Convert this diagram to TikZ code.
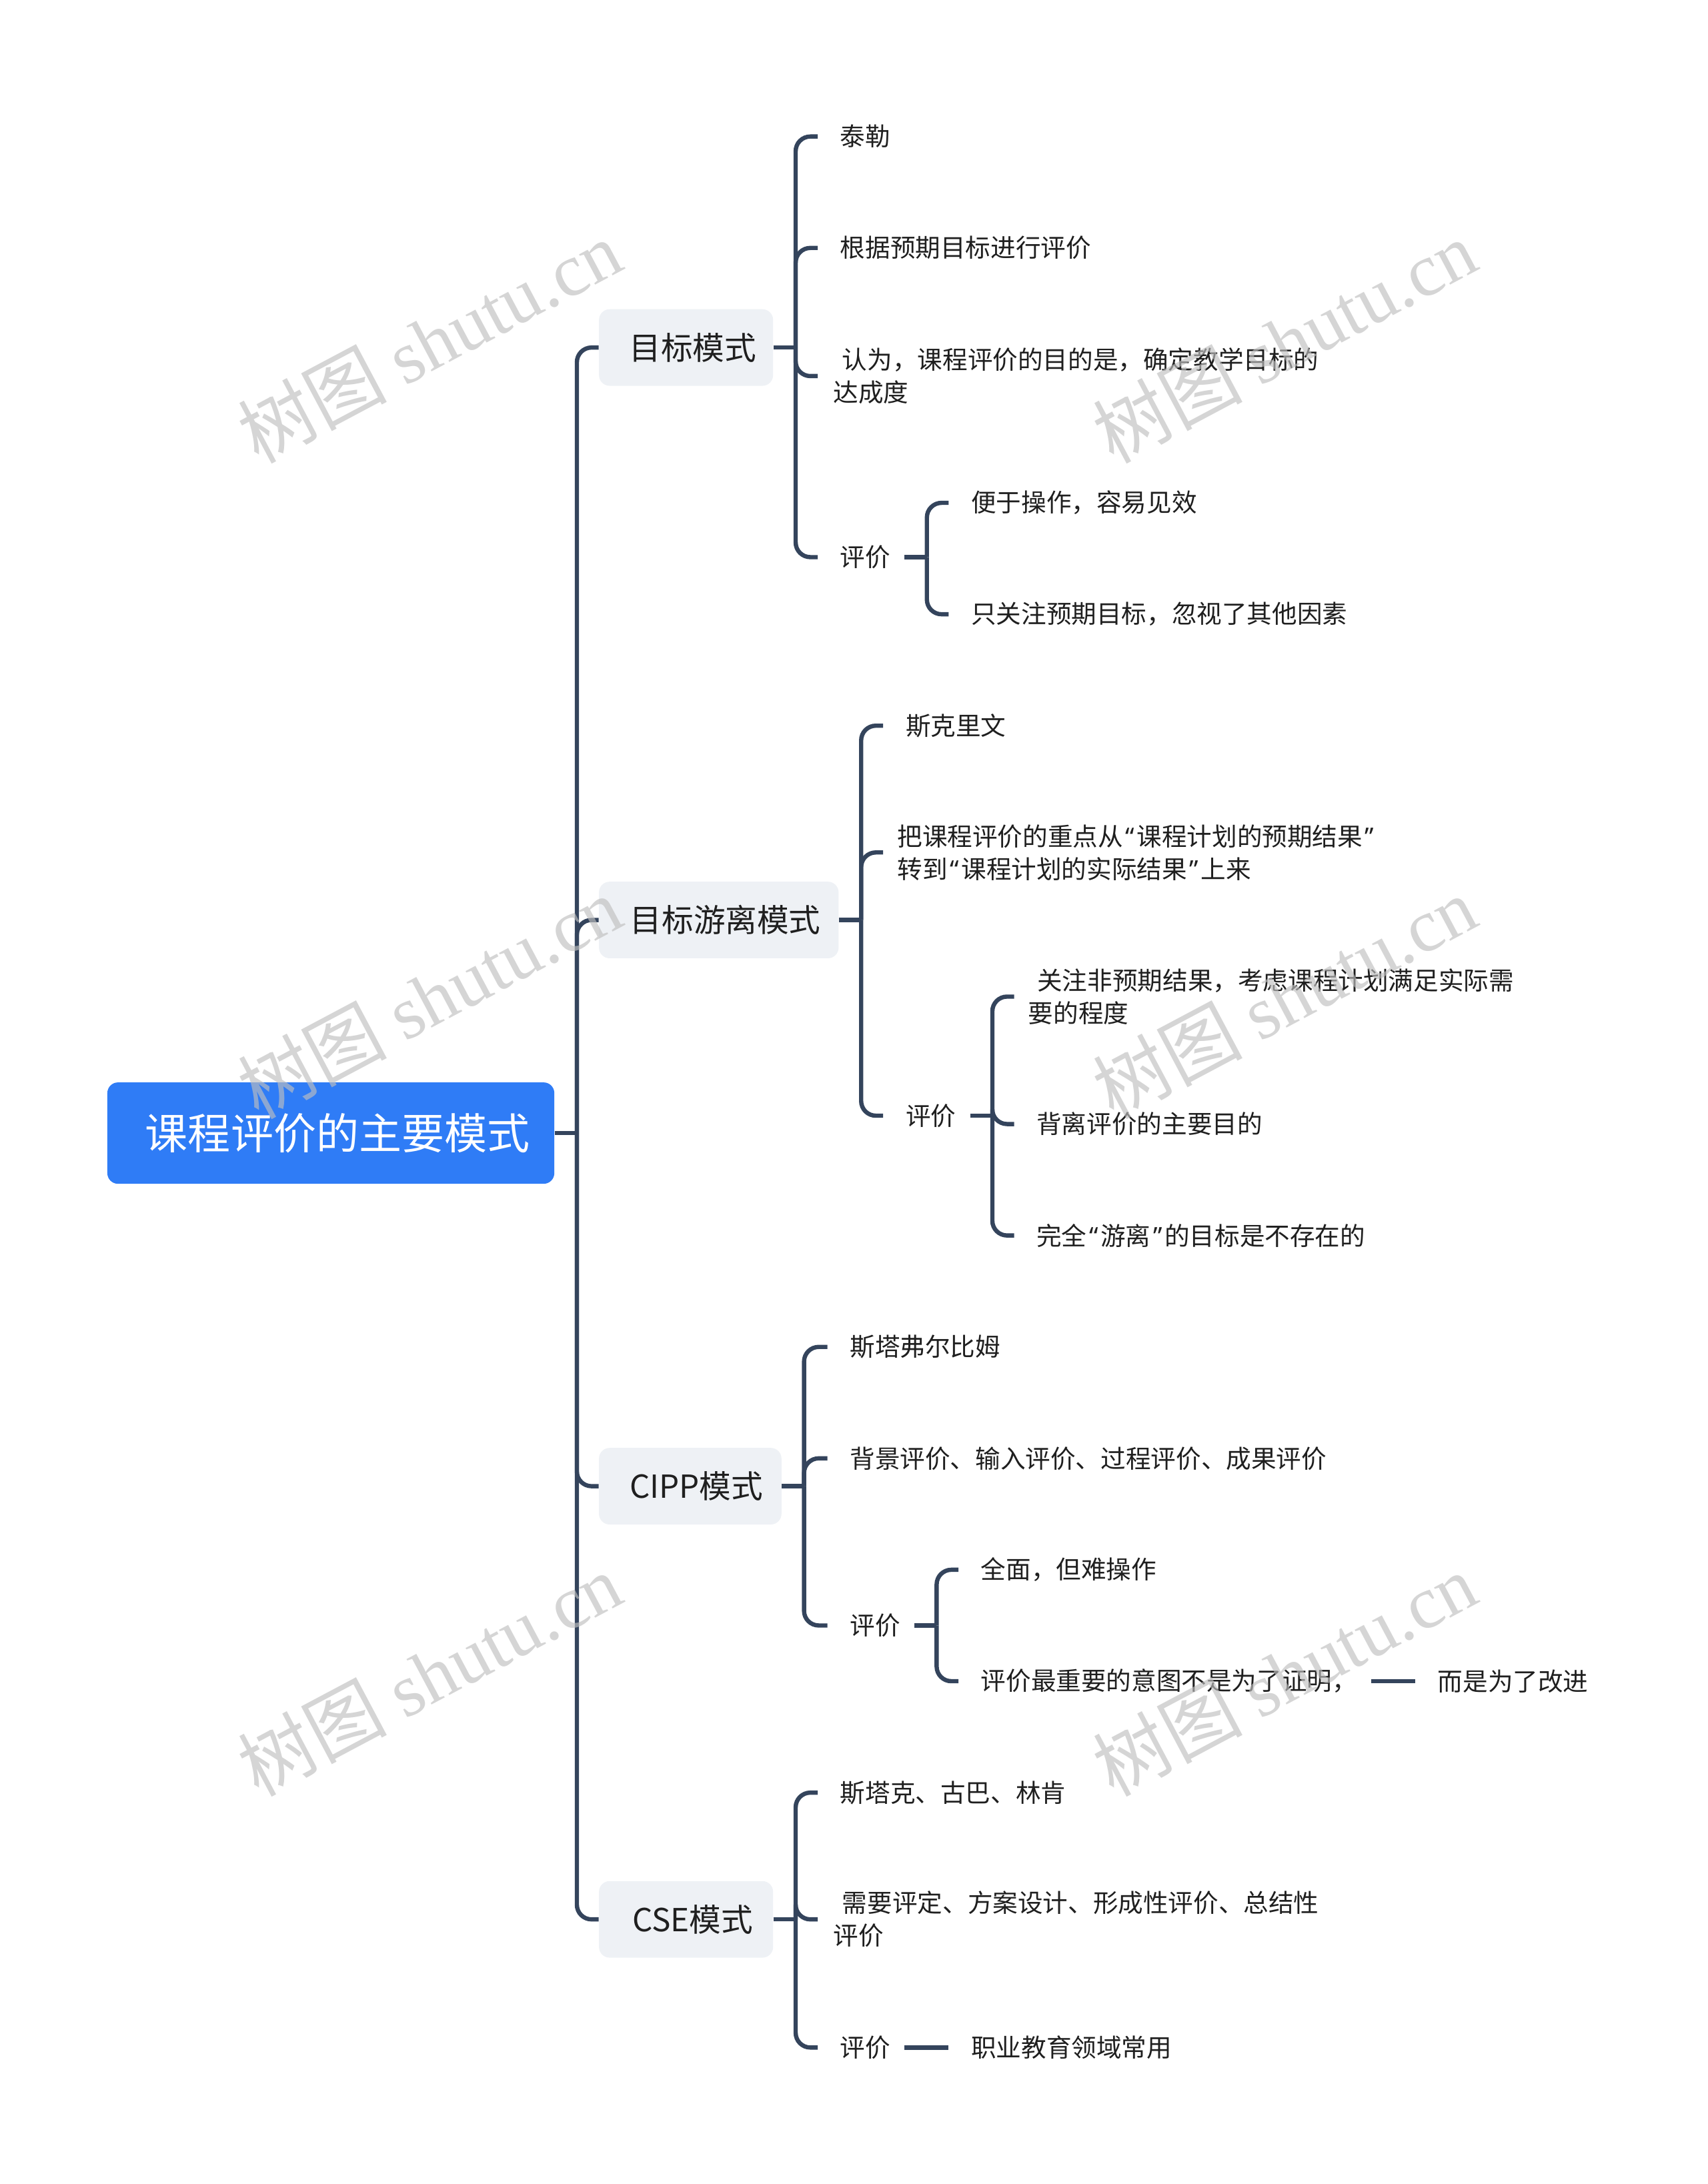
\documentclass[tikz,border=0pt]{standalone}
\usepackage{fontspec}
\setmainfont{Noto Sans CJK SC}
\newfontfamily\wmlat{Liberation Serif}
\newfontfamily\wmcjk{Noto Sans CJK SC}
\newfontfamily\qf{Noto Sans}
\newcommand\oq{\makebox[0.55em][c]{\qf “}}
\newcommand\cq{\makebox[0.55em][c]{\qf ”}}
\usetikzlibrary{calc}
\definecolor{lc}{HTML}{34445C}
\definecolor{txt}{HTML}{1F1F1F}
\definecolor{lonefill}{HTML}{EEF1F5}
\definecolor{rootblue}{HTML}{2F7CF6}
\definecolor{wmgray}{HTML}{BFBFBF}
\begin{document}
\begin{tikzpicture}[x=1.044pt,y=-1.044pt,
  conn/.style={draw=lc,line width=3.2pt,rounded corners=11pt},
  leaf/.style={anchor=west,inner sep=0pt,font=\fontsize{18.8pt}{24.5pt}\selectfont,text=txt},
  multi/.style={leaf,align=left},
  lone/.style={fill=lonefill,rounded corners=8pt,minimum height=57.4pt,inner sep=0pt,font=\fontsize{23.8pt}{28pt}\selectfont,text=txt},
  rootbox/.style={fill=rootblue,rounded corners=8pt,minimum width=335pt,minimum height=76pt,inner sep=0pt,font=\fontsize{32pt}{36pt}\selectfont,text=white},
  wm/.style={font=\fontsize{56pt}{60pt}\selectfont,text=wmgray,opacity=0.65,rotate=28,inner sep=0pt}]
\useasboundingbox (0,0) rectangle (1226,1568);

% root and level one
\node[rootbox] (root) at (237.5,813.5) {\hspace*{10pt}课程评价的主要模式};
\node[lone,minimum width=130.5pt] (A) at (492.5,249.5) {\hspace*{10pt}目标模式};
\node[lone,minimum width=179.6pt] (B) at (516,660.5) {\hspace*{10pt}目标游离模式};
\node[lone,minimum width=136.8pt] (C) at (495.5,1067) {\hspace*{9pt}CIPP模式};
\node[lone,minimum width=130.5pt] (D) at (492.5,1378) {\hspace*{10pt}CSE模式};

% group A
\node[leaf] (a1) at (603,98) {泰勒};
\node[leaf] (a2) at (603,178) {根据预期目标进行评价};
\node[multi] (a3) at (598,270) {\hspace*{0.36em}认为，课程评价的目的是，确定教学目标的\\达成度};
\node[leaf] (a4) at (603,400) {评价};
\node[leaf] (a41) at (697,361) {便于操作，容易见效};
\node[leaf] (a42) at (697,441) {只关注预期目标，忽视了其他因素};

% group B
\node[leaf] (b1) at (650,521) {斯克里文};
\node[multi] (b2) at (644,612) {把课程评价的重点从\oq 课程计划的预期结果\cq\\转到\oq 课程计划的实际结果\cq 上来};
\node[leaf] (b3) at (650,801) {评价};
\node[multi] (b31) at (738,715.5) {\hspace*{0.36em}关注非预期结果，考虑课程计划满足实际需\\要的程度};
\node[leaf] (b32) at (744,807) {背离评价的主要目的};
\node[leaf] (b33) at (744,887) {完全\oq 游离\cq 的目标是不存在的};

% group C
\node[leaf] (c1) at (610,967) {斯塔弗尔比姆};
\node[leaf] (c2) at (610,1047) {背景评价、输入评价、过程评价、成果评价};
\node[leaf] (c3) at (610,1167) {评价};
\node[leaf] (c31) at (704,1127) {全面，但难操作};
\node[leaf] (c32) at (704,1207) {评价最重要的意图不是为了证明，};
\node[leaf] (c321) at (1032,1207) {而是为了改进};

% group D
\node[leaf] (d1) at (603,1287) {斯塔克、古巴、林肯};
\node[multi] (d2) at (598,1378) {\hspace*{0.36em}需要评定、方案设计、形成性评价、总结性\\评价};
\node[leaf] (d3) at (603,1470) {评价};
\node[leaf] (d31) at (697,1470) {职业教育领域常用};

% connectors: root
\draw[conn] (root.east) -- ($(root.east)+(16,0)$);
\foreach \n in {A,B,C,D} \draw[conn] ($(root.east)+(16,0)$) |- (\n.west);

% connectors: A
\draw[conn] (A.east) -- ($(A.east)+(16,0)$);
\foreach \c/\s in {a1/16,a2/16,a3/11,a4/16} \draw[conn] ($(A.east)+(16,0)$) |- ($(\c.west)+(-\s,0)$);
\draw[conn] ($(a4.east)+(10,0)$) -- ($(a4.east)+(26,0)$);
\foreach \c in {a41,a42} \draw[conn] ($(a4.east)+(26,0)$) |- ($(\c.west)+(-16,0)$);

% connectors: B
\draw[conn] (B.east) -- ($(B.east)+(16,0)$);
\foreach \c/\s in {b1/16,b2/10,b3/16} \draw[conn] ($(B.east)+(16,0)$) |- ($(\c.west)+(-\s,0)$);
\draw[conn] ($(b3.east)+(10,0)$) -- ($(b3.east)+(26,0)$);
\foreach \c/\s in {b31/10,b32/16,b33/16} \draw[conn] ($(b3.east)+(26,0)$) |- ($(\c.west)+(-\s,0)$);

% connectors: C
\draw[conn] (C.east) -- ($(C.east)+(16,0)$);
\foreach \c in {c1,c2,c3} \draw[conn] ($(C.east)+(16,0)$) |- ($(\c.west)+(-16,0)$);
\draw[conn] ($(c3.east)+(10,0)$) -- ($(c3.east)+(26,0)$);
\foreach \c in {c31,c32} \draw[conn] ($(c3.east)+(26,0)$) |- ($(\c.west)+(-16,0)$);
\draw[conn] ($(c32.east)+(10,0)$) -- ($(c321.west)+(-16,0)$);

% connectors: D
\draw[conn] (D.east) -- ($(D.east)+(16,0)$);
\foreach \c/\s in {d1/16,d2/11,d3/16} \draw[conn] ($(D.east)+(16,0)$) |- ($(\c.west)+(-\s,0)$);
\draw[conn] ($(d3.east)+(10,0)$) -- ($(d31.west)+(-16,0)$);

% watermarks
\foreach \wx/\wy [count=\i] in {308/245,922/245,308/716,922/716,308/1202,922/1202}
  \node[wm] (wm\i) at (\wx,\wy) {\wmcjk 树图 \wmlat shutu.cn};
\end{tikzpicture}
\end{document}
